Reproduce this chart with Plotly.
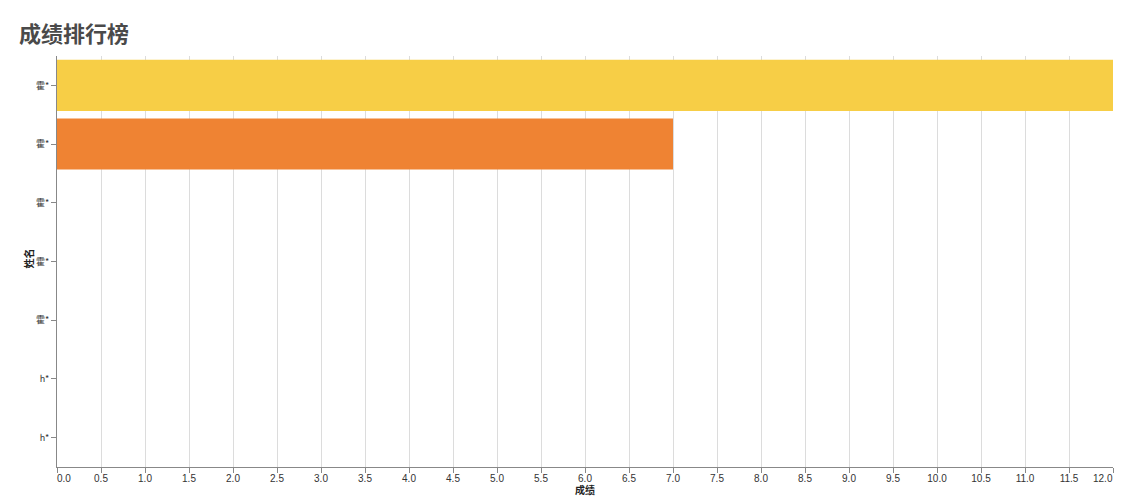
import plotly.graph_objects as go

names = ["霍*", "霍*", "霍*", "霍*", "霍*", "h*", "h*"]
scores = [12, 7, 0, 0, 0, 0, 0]
bar_colors = ["#F7CE46", "#EF8333", "#EF8333", "#EF8333", "#EF8333", "#EF8333", "#EF8333"]
x_ticks = [i * 0.5 for i in range(25)]
x_labels = [f"{v:.1f}" for v in x_ticks]

positions = list(range(len(names)))

# page body has an 8px margin; size the figure so it fits the window
OFF = 8
W, H = 1123 - OFF, 496 - OFF
L, T = 57 - OFF, 56 - OFF
R = W - (1113 - OFF)
B = H - (467 - OFF)
PW, PH = W - L - R, H - T - B

fig = go.Figure(go.Bar(
    x=scores,
    y=positions,
    orientation="h",
    marker=dict(color=bar_colors, line=dict(width=0)),
    width=0.87,
    hoverinfo="x+text",
    text=names,
    textposition="none",
))

tick_font = dict(family="Liberation Sans", size=10, color="#333")
label_y = -(478 - 467) / PH

# first and last x labels are flush with the plot edges
inner_labels = [""] + x_labels[1:-1] + [""]
edge_annotations = [
    dict(text=x_labels[0], xref="x", yref="paper", x=x_ticks[0], y=label_y,
         xanchor="left", yanchor="middle", showarrow=False, font=tick_font,
         borderpad=0, borderwidth=0),
    dict(text=x_labels[-1], xref="x", yref="paper", x=x_ticks[-1], y=label_y,
         xanchor="right", yanchor="middle", showarrow=False, font=tick_font,
         borderpad=0, borderwidth=0),
]

fig.update_layout(
    width=W, height=H,
    margin=dict(l=L, r=R, t=T, b=B, autoexpand=False),
    paper_bgcolor="white", plot_bgcolor="white",
    font=dict(family="Noto Sans CJK SC, Liberation Sans", color="#333"),
    showlegend=False,
    bargap=0.13,
    annotations=[
        dict(text="<b>成绩排行榜</b>", xref="paper", yref="paper",
             x=-(L - (17 - OFF)) / PW, y=1 + (T - (32 - OFF)) / PH,
             xanchor="left", yanchor="middle", showarrow=False,
             font=dict(family="Noto Sans CJK SC", size=22, color="#4a4a4a")),
        dict(text="<b>成绩</b>", xref="paper", yref="paper",
             x=0.5, y=-(489.5 - 467) / PH,
             xanchor="center", yanchor="middle", showarrow=False,
             borderpad=0, borderwidth=0,
             font=dict(family="Noto Sans CJK SC", size=10, color="#222")),
        dict(text="<b>姓名</b>", xref="paper", yref="paper",
             x=-(L - (28.5 - OFF)) / PW, y=(467 - 259) / PH, textangle=-90,
             xanchor="center", yanchor="middle", showarrow=False,
             borderpad=0, borderwidth=0,
             font=dict(family="Noto Sans CJK SC", size=10, color="#222")),
    ] + edge_annotations,
)

fig.update_xaxes(
    range=[0, 12], tickvals=x_ticks, ticktext=inner_labels,
    showgrid=True, gridcolor="#dcdcdc", gridwidth=1,
    showline=True, linecolor="#888", linewidth=1,
    ticks="outside", ticklen=5, tickcolor="#888",
    tickfont=tick_font, ticklabelstandoff=-3,
    zeroline=False, automargin=False,
)
fig.update_yaxes(
    range=[len(names) - 0.5, -0.5], tickvals=positions, ticktext=names,
    showgrid=False,
    showline=True, linecolor="#888", linewidth=1,
    ticks="outside", ticklen=5, tickcolor="#888",
    tickfont=dict(size=9, color="#333"),
    zeroline=False, automargin=False,
)

fig.write_html("out.html")
